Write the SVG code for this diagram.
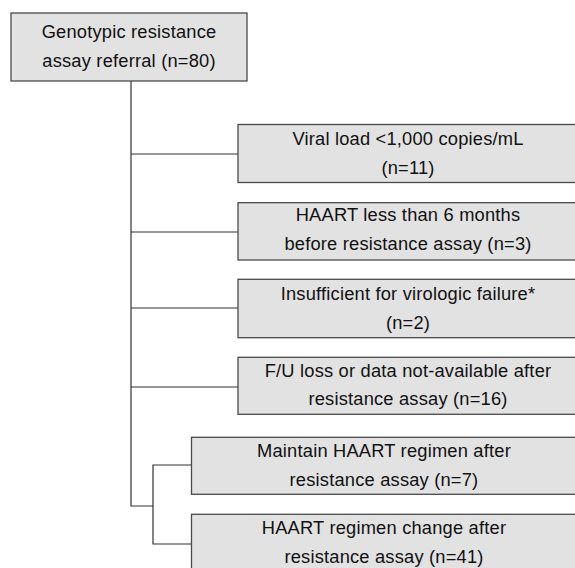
<svg xmlns="http://www.w3.org/2000/svg" width="575" height="568" viewBox="0 0 575 568">
<style>
.box{fill:#e2e2e2;stroke:#4a4a4a;stroke-width:1.3}
.t{font-family:"Liberation Sans",Arial,sans-serif;font-size:18.3px;letter-spacing:0.2px;fill:#111;text-anchor:middle}
.c{fill:none;stroke:#333;stroke-width:1.2}
</style>
<rect width="575" height="568" fill="#fff"/>
<g id="connectors">
<path class="c" d="M131,81 V506 H153"/>
<path class="c" d="M131,154 H238"/>
<path class="c" d="M131,232 H238"/>
<path class="c" d="M131,308 H238"/>
<path class="c" d="M131,387 H238"/>
<path class="c" d="M191,465 H153 V544 H191"/>
</g>
<g id="n0">
<rect class="box" x="11" y="13" width="236" height="68"/>
<text class="t" x="129" y="38">Genotypic resistance</text>
<text class="t" x="129" y="67">assay referral (n=80)</text>
</g>
<g id="n1">
<rect class="box" x="238" y="124.5" width="345" height="58"/>
<text class="t" x="408" y="144.5">Viral load &lt;1,000 copies/mL</text>
<text class="t" x="408" y="173.5">(n=11)</text>
</g>
<g id="n2">
<rect class="box" x="238" y="202.7" width="345" height="57.3"/>
<text class="t" x="408" y="221">HAART less than 6 months</text>
<text class="t" x="408" y="250">before resistance assay (n=3)</text>
</g>
<g id="n3">
<rect class="box" x="238" y="279.3" width="345" height="58.4"/>
<text class="t" x="408" y="300">Insufficient for virologic failure*</text>
<text class="t" x="408" y="329">(n=2)</text>
</g>
<g id="n4">
<rect class="box" x="238" y="357.3" width="345" height="57"/>
<text class="t" x="408" y="376.5">F/U loss or data not-available after</text>
<text class="t" x="408" y="405">resistance assay (n=16)</text>
</g>
<g id="n5">
<rect class="box" x="191.5" y="437.3" width="392" height="57"/>
<text class="t" x="384" y="457">Maintain HAART regimen after</text>
<text class="t" x="384" y="486">resistance assay (n=7)</text>
</g>
<g id="n6">
<rect class="box" x="191.5" y="514.3" width="392" height="66"/>
<text class="t" x="384" y="534">HAART regimen change after</text>
<text class="t" x="384" y="563">resistance assay (n=41)</text>
</g>
</svg>
